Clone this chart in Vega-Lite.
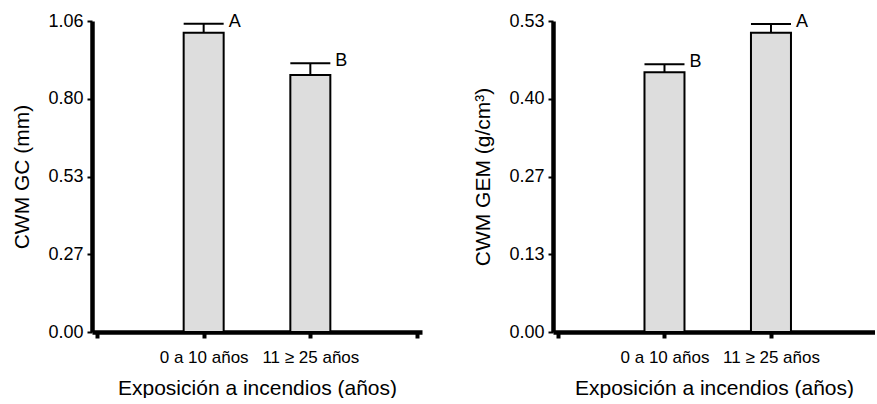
{
  "$schema": "https://vega.github.io/schema/vega-lite/v6.json",
  "background": "white",
  "padding": {"left": 11, "top": 12, "right": 0, "bottom": 0},
  "spacing": 50,
  "config": {
    "view": {"stroke": null},
    "font": "Liberation Sans",
    "axis": {
      "domainColor": "black",
      "domainWidth": 4.5,
      "domainOpacity": 1,
      "tickColor": "black",
      "tickOpacity": 1,
      "labelColor": "black",
      "titleColor": "black",
      "titleFontWeight": "normal",
      "titleFont": "Liberation Sans",
      "labelFont": "Liberation Sans",
      "grid": false
    },
    "axisY": {"tickWidth": 2, "tickSize": 5, "labelFontSize": 18, "labelPadding": 4, "titleFontSize": 21, "titlePadding": 15},
    "axisX": {"tickWidth": 4, "tickSize": 6, "labelFontSize": 17, "labelPadding": 11, "titleFontSize": 21, "titlePadding": 12, "labelFlush": false, "labelOverlap": false}
  },
  "datasets": {
    "gc": [
      {"grupo": "0 a 10 años", "pos": 1, "media": 1.020, "sup": 1.051, "letra": "A"},
      {"grupo": "11 ≥ 25 años", "pos": 2, "media": 0.876, "sup": 0.916, "letra": "B"}
    ],
    "gem": [
      {"grupo": "0 a 10 años", "pos": 1, "media": 0.4427, "sup": 0.4563, "letra": "B"},
      {"grupo": "11 ≥ 25 años", "pos": 2, "media": 0.5101, "sup": 0.5249, "letra": "A"}
    ]
  },
  "hconcat": [
    {
      "width": 330,
      "height": 311,
      "data": {"name": "gc"},
      "encoding": {
        "x": {
          "field": "pos", "type": "quantitative",
          "scale": {"domain": [0, 3], "nice": false, "zero": false},
          "axis": {"title": "Exposición a incendios (años)", "values": [0, 1, 2, 3], "domainWidth": 4.5, "domainColor": "black",
                   "labelExpr": "datum.value == 1 ? '0 a 10 años' : datum.value == 2 ? '11 ≥ 25 años' : ''"}
        }
      },
      "layer": [
        {
          "mark": {"type": "bar", "orient": "vertical", "size": 40, "fill": "#dddddd", "stroke": "black", "strokeWidth": 2},
          "encoding": {
            "y": {"field": "media", "type": "quantitative",
                  "scale": {"domain": [0, 1.06], "nice": false},
                  "axis": {"title": "CWM GC (mm)", "values": [0, 0.265, 0.53, 0.795, 1.06], "domainWidth": 4.5, "domainColor": "black",
                           "labelExpr": "format(datum.value + 0.0001, '.2f')"}}
          }
        },
        {
          "mark": {"type": "rule", "color": "black", "strokeWidth": 2},
          "encoding": {"y": {"field": "media", "type": "quantitative"}, "y2": {"field": "sup"}}
        },
        {
          "mark": {"type": "tick", "orient": "horizontal", "size": 40, "thickness": 2, "color": "black", "opacity": 1},
          "encoding": {"y": {"field": "sup", "type": "quantitative"}}
        },
        {
          "mark": {"type": "text", "align": "left", "baseline": "alphabetic", "dx": 25, "dy": 3, "fontSize": 18, "color": "black"},
          "encoding": {"y": {"field": "sup", "type": "quantitative"}, "text": {"field": "letra"}}
        }
      ]
    },
    {
      "width": 322,
      "height": 311,
      "data": {"name": "gem"},
      "encoding": {
        "x": {
          "field": "pos", "type": "quantitative",
          "scale": {"domain": [0, 2.93], "nice": false, "zero": false},
          "axis": {"title": "Exposición a incendios (años)", "values": [0, 1, 2], "domainWidth": 4.5, "domainColor": "black",
                   "labelExpr": "datum.value == 1 ? '0 a 10 años' : datum.value == 2 ? '11 ≥ 25 años' : ''"}
        }
      },
      "layer": [
        {
          "mark": {"type": "bar", "orient": "vertical", "size": 40, "fill": "#dddddd", "stroke": "black", "strokeWidth": 2},
          "encoding": {
            "y": {"field": "media", "type": "quantitative",
                  "scale": {"domain": [0, 0.53], "nice": false},
                  "axis": {"title": "CWM GEM (g/cm³)", "values": [0, 0.1325, 0.265, 0.3975, 0.53], "domainWidth": 4.5, "domainColor": "black",
                           "labelExpr": "format(datum.value + 0.0001, '.2f')"}}
          }
        },
        {
          "mark": {"type": "rule", "color": "black", "strokeWidth": 2},
          "encoding": {"y": {"field": "media", "type": "quantitative"}, "y2": {"field": "sup"}}
        },
        {
          "mark": {"type": "tick", "orient": "horizontal", "size": 40, "thickness": 2, "color": "black", "opacity": 1},
          "encoding": {"y": {"field": "sup", "type": "quantitative"}}
        },
        {
          "mark": {"type": "text", "align": "left", "baseline": "alphabetic", "dx": 25, "dy": 3, "fontSize": 18, "color": "black"},
          "encoding": {"y": {"field": "sup", "type": "quantitative"}, "text": {"field": "letra"}}
        }
      ]
    }
  ]
}
